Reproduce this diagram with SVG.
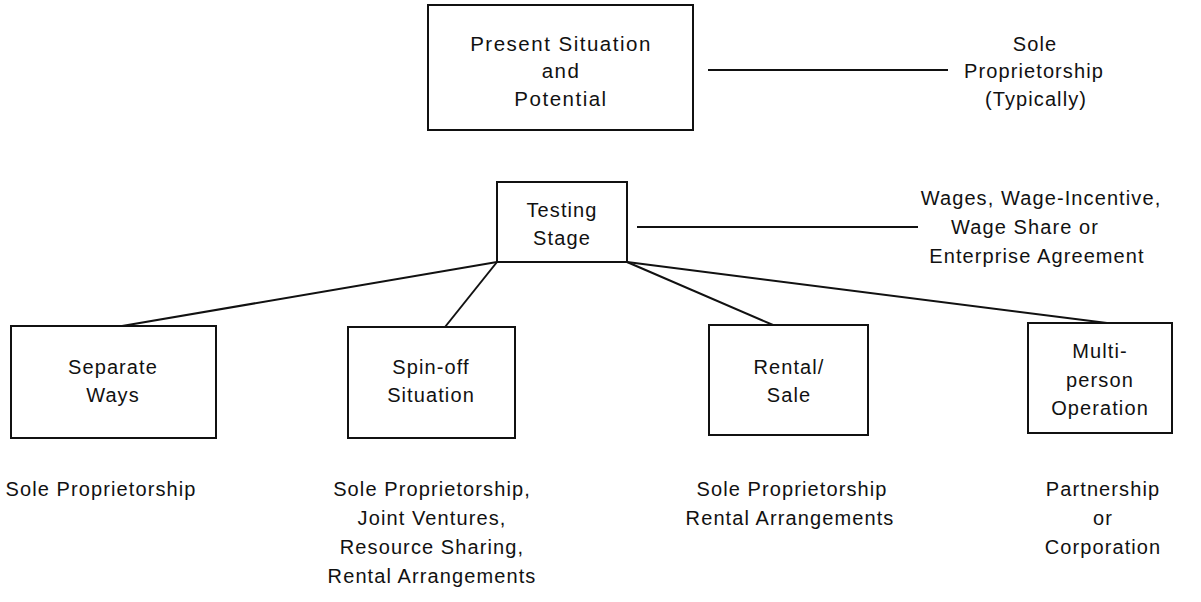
<svg xmlns="http://www.w3.org/2000/svg" width="1201" height="602" viewBox="0 0 1201 602">
<style>
.box{fill:none;stroke:#111;stroke-width:2}
.ln{fill:none;stroke:#111;stroke-width:2}
text{font-family:"Liberation Sans",Arial,sans-serif;font-size:20px;letter-spacing:1.1px;fill:#111;text-anchor:middle}
.big{font-size:20.5px;letter-spacing:1.5px}
</style>
<rect width="1201" height="602" fill="#fff"/>
<g id="connectors">
<line class="ln" x1="708" y1="70" x2="948" y2="70"/>
<line class="ln" x1="637" y1="227" x2="918" y2="227"/>
<line class="ln" x1="497" y1="262" x2="122" y2="326"/>
<line class="ln" x1="497" y1="262" x2="445" y2="327"/>
<line class="ln" x1="627" y1="262" x2="773" y2="325"/>
<line class="ln" x1="627" y1="262" x2="1107" y2="323"/>
</g>
<g id="present">
<rect class="box" x="428" y="5" width="265" height="125"/>
<text class="big" x="561" y="51">Present Situation</text>
<text class="big" x="561" y="78">and</text>
<text class="big" x="561" y="106">Potential</text>
</g>
<g id="sole-typ">
<text x="1035" y="51">Sole</text>
<text x="1034" y="78">Proprietorship</text>
<text x="1036" y="106">(Typically)</text>
</g>
<g id="testing">
<rect class="box" x="497" y="182" width="130" height="80"/>
<text x="562" y="217">Testing</text>
<text x="562" y="245">Stage</text>
</g>
<g id="wages">
<text x="1041" y="205">Wages, Wage-Incentive,</text>
<text x="1025" y="234">Wage Share or</text>
<text x="1037" y="263">Enterprise Agreement</text>
</g>
<g id="separate">
<rect class="box" x="11" y="326" width="205" height="112"/>
<text x="113" y="374">Separate</text>
<text x="113" y="402">Ways</text>
</g>
<g id="spinoff">
<rect class="box" x="348" y="327" width="167" height="111"/>
<text x="431" y="374">Spin-off</text>
<text x="431" y="402">Situation</text>
</g>
<g id="rental">
<rect class="box" x="709" y="325" width="159" height="110"/>
<text x="789" y="374">Rental/</text>
<text x="789" y="402">Sale</text>
</g>
<g id="multi">
<rect class="box" x="1028" y="323" width="144" height="110"/>
<text x="1100" y="358">Multi-</text>
<text x="1100" y="387">person</text>
<text x="1100" y="415">Operation</text>
</g>
<g id="out-separate">
<text x="101" y="496">Sole Proprietorship</text>
</g>
<g id="out-spinoff">
<text x="432" y="496">Sole Proprietorship,</text>
<text x="432" y="525">Joint Ventures,</text>
<text x="432" y="554">Resource Sharing,</text>
<text x="432" y="583">Rental Arrangements</text>
</g>
<g id="out-rental">
<text x="792" y="496">Sole Proprietorship</text>
<text x="790" y="525">Rental Arrangements</text>
</g>
<g id="out-multi">
<text x="1103" y="496">Partnership</text>
<text x="1103" y="525">or</text>
<text x="1103" y="554">Corporation</text>
</g>
</svg>
